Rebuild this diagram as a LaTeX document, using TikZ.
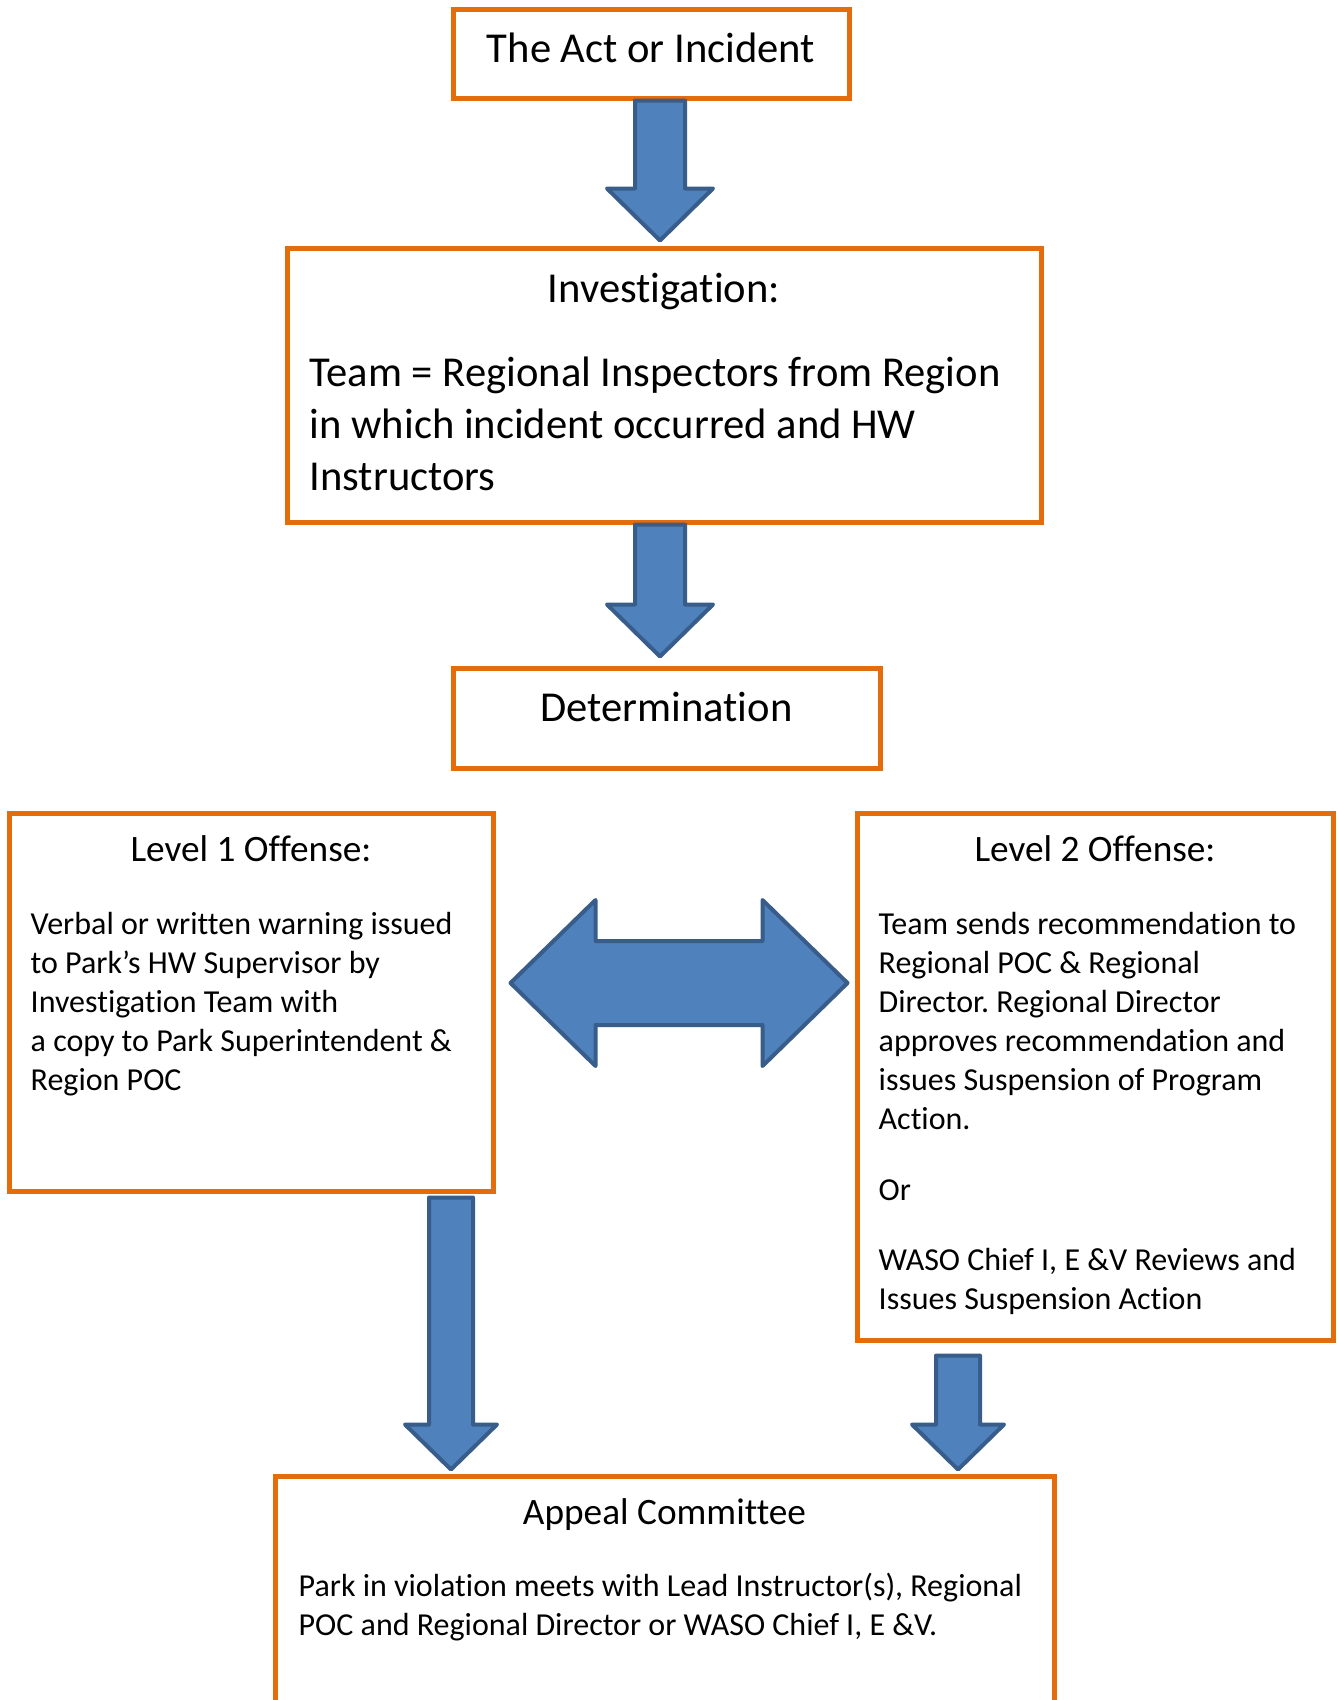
\documentclass[tikz,border=0pt]{standalone}
\usepackage{fontspec}
\setmainfont{Carlito}[Ligatures=NoCommon]
\usepackage{tikz}
\usetikzlibrary{positioning, calc}
\definecolor{boxorange}{RGB}{228, 108, 10}
\definecolor{arrowblue}{RGB}{79, 129, 189}
\definecolor{arrowedge}{RGB}{56, 93, 138}
\frenchspacing

\begin{document}
\begin{tikzpicture}[x=1pt, y=-1pt,
  stepbox/.style={draw=boxorange, line width=5pt, inner sep=0pt},
  bigtext/.style={font=\fontsize{42.6}{52}\selectfont, inner sep=0pt},
  titletext/.style={font=\fontsize{37.3}{45}\selectfont, inner sep=0pt},
  bodytext/.style={font=\fontsize{32}{39}\selectfont, align=left, inner sep=0pt},
  blockarrow/.style={fill=arrowblue, draw=arrowedge, line width=4pt, line join=round}]
\useasboundingbox (0,0) rectangle (1337,1700);
\fill[white] (0,0) rectangle (1337,1700);

% Boxes
\node[stepbox, minimum width=396, minimum height=89] (act) at (651,53.5) {};
\node[stepbox, minimum width=754, minimum height=274] (inv) at (664,385) {};
\node[stepbox, minimum width=427, minimum height=100] (det) at (666.5,718) {};
\node[stepbox, minimum width=484, minimum height=378] (lone) at (251,1002) {};
\node[stepbox, minimum width=476, minimum height=527] (ltwo) at (1095,1076.5) {};
\node[stepbox, minimum width=779, minimum height=284] (appeal) at (664.5,1618) {};

% Texts (multi-line: base = last line)
\node[bigtext, anchor=base] (acttext) at ([yshift=-56pt]act.north) {The Act or Incident};
\node[bigtext, anchor=base] (invtitle) at ([yshift=-57pt]inv.north) {Investigation:};
\node[bigtext, align=left, anchor=base west] (invbody) at ([xshift=25pt, yshift=-245pt]inv.north west)
  {Team = Regional Inspectors from Region\\in which incident occurred and HW\\Instructors};
\node[bigtext, anchor=base] (dettext) at ([yshift=-56pt]det.north) {Determination};

\node[titletext, anchor=base] (lonetitle) at ([yshift=-51pt]lone.north) {Level 1 Offense:};
\node[bodytext, anchor=base west] (lonebody) at ([xshift=24pt, yshift=-280pt]lone.north west)
  {Verbal or written warning issued\\to Park’s HW Supervisor by\\Investigation Team with\\a copy to Park Superintendent \&\\Region POC};

\node[titletext, anchor=base] (ltwotitle) at ([yshift=-51pt]ltwo.north) {Level 2 Offense:};
\node[bodytext, anchor=base west] (ltwobody) at ([xshift=24pt, yshift=-499pt]ltwo.north west)
  {Team sends recommendation to\\Regional POC \& Regional\\Director. Regional Director\\approves recommendation and\\issues Suspension of Program\\Action.\\[31.5pt]Or\\[31.5pt]WASO Chief I, E \&V Reviews and\\Issues Suspension Action};

\node[titletext, anchor=base] (appealtitle) at ([yshift=-51pt]appeal.north) {Appeal Committee};
\node[bodytext, anchor=base west] (appealbody) at ([xshift=26pt, yshift=-162pt]appeal.north west)
  {Park in violation meets with Lead Instructor(s), Regional\\POC and Regional Director or WASO Chief I, E \&V.};

% Block arrows
\coordinate (t1) at ([xshift=9pt]act.south);
\coordinate (h1) at ([xshift=-4pt, yshift=5pt]inv.north);
\draw[blockarrow] ($(t1)+(-25,0)$) -- ($(t1)+(25,0)$) -- ($(h1)+(25,-52)$) -- ($(h1)+(53,-52)$)
  -- (h1) -- ($(h1)+(-53,-52)$) -- ($(h1)+(-25,-52)$) -- cycle;

\coordinate (t2) at ([xshift=-4pt]inv.south);
\coordinate (h2) at ([xshift=-6.5pt, yshift=9pt]det.north);
\draw[blockarrow] ($(t2)+(-25,0)$) -- ($(t2)+(25,0)$) -- ($(h2)+(25,-52)$) -- ($(h2)+(53,-52)$)
  -- (h2) -- ($(h2)+(-53,-52)$) -- ($(h2)+(-25,-52)$) -- cycle;

\coordinate (l3) at ([xshift=15pt, yshift=19pt]lone.east);
\coordinate (r3) at ([xshift=-7pt, yshift=93.5pt]ltwo.west);
\draw[blockarrow] (l3) -- ++(85,-83) -- ++(0,41) -- ($(r3)+(-85,-42)$) -- ++(0,-41) -- (r3)
  -- ++(-85,83) -- ++(0,-41) -- ($(l3)+(85,42)$) -- ++(0,41) -- cycle;

\coordinate (t4) at ([xshift=200pt, yshift=-4pt]lone.south);
\coordinate (h4) at ([xshift=-213.5pt, yshift=4pt]appeal.north);
\draw[blockarrow] ($(t4)+(-22,0)$) -- ($(t4)+(22,0)$) -- ($(h4)+(22,-45)$) -- ($(h4)+(46,-45)$)
  -- (h4) -- ($(h4)+(-46,-45)$) -- ($(h4)+(-22,-45)$) -- cycle;

\coordinate (t5) at ([xshift=-137pt, yshift=-13pt]ltwo.south);
\coordinate (h5) at ([xshift=293.5pt, yshift=4pt]appeal.north);
\draw[blockarrow] ($(t5)+(-22,0)$) -- ($(t5)+(22,0)$) -- ($(h5)+(22,-45)$) -- ($(h5)+(46,-45)$)
  -- (h5) -- ($(h5)+(-46,-45)$) -- ($(h5)+(-22,-45)$) -- cycle;
\end{tikzpicture}
\end{document}
